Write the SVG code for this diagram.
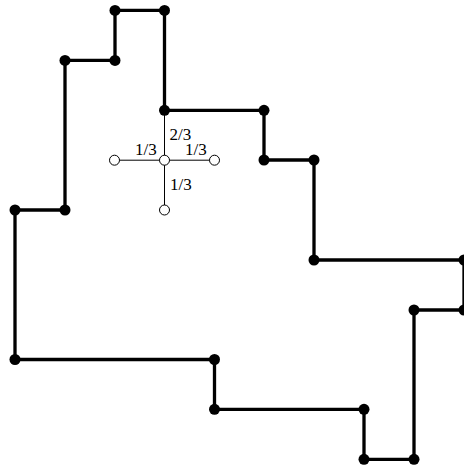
<svg xmlns="http://www.w3.org/2000/svg" width="464" height="468" viewBox="0 0 464 468">
<style>
.b{fill:none;stroke:#000;stroke-width:3.3}
.t{fill:none;stroke:#000;stroke-width:1}
.d{fill:#000}
.o{fill:#fff;stroke:#000;stroke-width:1}
text{font-family:"Liberation Serif",serif;font-size:17px;fill:#000}
</style>
<rect width="464" height="468" fill="#fff"/>
<g id="connectors">
<path class="b" d="M164.5 110.3H264V160H314V260H464V310H414V459.3H364V409.3H214.5V359.5H15V210H65V60.4H115V10.4H164.5Z"/>
<path class="t" d="M164.5 110.3V210M114.5 160.2H214.5"/>
</g>
<g id="boundary-nodes">
<circle class="d" cx="115" cy="10.4" r="5.5"/>
<circle class="d" cx="164.5" cy="10.4" r="5.5"/>
<circle class="d" cx="65" cy="60.4" r="5.5"/>
<circle class="d" cx="115" cy="60.4" r="5.5"/>
<circle class="d" cx="164.5" cy="110.3" r="5.5"/>
<circle class="d" cx="264" cy="110.3" r="5.5"/>
<circle class="d" cx="264" cy="160" r="5.5"/>
<circle class="d" cx="314" cy="160" r="5.5"/>
<circle class="d" cx="314" cy="260" r="5.5"/>
<circle class="d" cx="464" cy="260" r="5.5"/>
<circle class="d" cx="464" cy="310" r="5.5"/>
<circle class="d" cx="414" cy="310" r="5.5"/>
<circle class="d" cx="414" cy="459.3" r="5.5"/>
<circle class="d" cx="364" cy="459.3" r="5.5"/>
<circle class="d" cx="364" cy="409.3" r="5.5"/>
<circle class="d" cx="214.5" cy="409.3" r="5.5"/>
<circle class="d" cx="214.5" cy="359.5" r="5.5"/>
<circle class="d" cx="15" cy="359.5" r="5.5"/>
<circle class="d" cx="15" cy="210" r="5.5"/>
<circle class="d" cx="65" cy="210" r="5.5"/>
</g>
<g id="stencil-nodes">
<circle class="o" cx="164.5" cy="160.2" r="5"/>
<circle class="o" cx="114.5" cy="160.2" r="5"/>
<circle class="o" cx="214.5" cy="160.2" r="5"/>
<circle class="o" cx="164.5" cy="210" r="5"/>
</g>
<g id="labels">
<text x="169.5" y="140">2/3</text>
<text x="135" y="155">1/3</text>
<text x="185" y="155">1/3</text>
<text x="170" y="190">1/3</text>
</g>
</svg>
